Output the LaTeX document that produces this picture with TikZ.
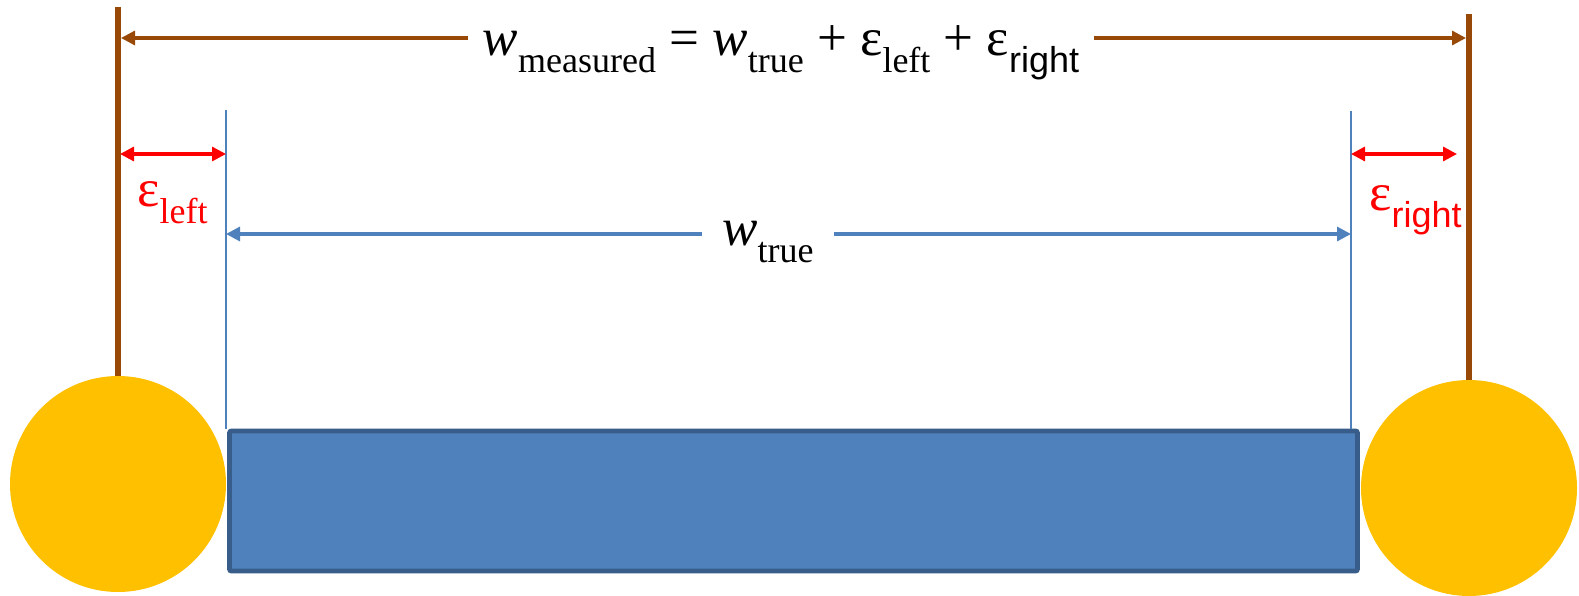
\documentclass[tikz,border=0pt]{standalone}
\usepackage{fontspec}
\setmainfont{Liberation Serif}
\setsansfont{Liberation Sans}
\usetikzlibrary{arrows.meta,positioning}
\definecolor{rodbrown}{HTML}{984807}
\definecolor{ballgold}{HTML}{FFC000}
\definecolor{barblue}{HTML}{4F81BD}
\definecolor{baredge}{HTML}{385D8A}
\definecolor{errred}{HTML}{FF0000}
\newcommand{\wsub}[1]{\raisebox{-8.5pt}{\fontsize{18}{21}\selectfont #1}}
\tikzset{
  ball/.style={circle, fill=ballgold, minimum size=108pt, inner sep=0pt},
  rod/.style={line width=3.4pt, color=rodbrown},
  bar/.style={draw=baredge, fill=barblue, line width=2.4pt, rounded corners=1pt, inner sep=0pt, minimum width=564pt, minimum height=70pt},
  edgeln/.style={line width=0.9pt, color=barblue},
  arrm/.style={-{Triangle[length=7pt, width=7pt]}, line width=1.6pt, color=rodbrown},
  arrt/.style={-{Triangle[length=7pt, width=7pt]}, line width=1.6pt, color=barblue},
  arre/.style={{Triangle[length=7pt, width=7pt]}-{Triangle[length=7pt, width=7pt]}, line width=1.6pt, color=errred},
  lab/.style={font=\fontsize{26.5}{30}\selectfont, inner ysep=0pt, inner xsep=7pt},
}
\begin{document}
\begin{tikzpicture}[x=0.5pt, y=-0.5pt]
  \useasboundingbox (0,0) rectangle (1579,595);
  % balls, rods and bar
  \foreach \nm/\x/\y in {lball/118/484, rball/1469/488}
    \node[ball] (\nm) at (\x,\y) {};
  \coordinate (lrod) at (118,7);
  \coordinate (rrod) at (1469,14);
  \draw[rod] (lrod) -- (lball.north);
  \draw[rod] (rrod) -- (rball.north);
  \node[bar] (bar) at (793.5,501) {};
  % edges of the true width
  \coordinate (ledge) at (226,110);
  \coordinate (redge) at (1351,111);
  \draw[edgeln] (ledge) -- (ledge |- bar.north);
  \draw[edgeln] (redge) -- (redge |- bar.north);
  % measured width
  \node[lab, anchor=base] (wmeas) at (781,55)
    {\textit{w}\wsub{measured} = \textit{w}\wsub{true} + ε\wsub{left} + ε\wsub{\textsf{right}}};
  \coordinate (mL) at (121,38);
  \coordinate (mR) at (1466,38);
  \draw[arrm] (wmeas.west |- mL) -- (mL);
  \draw[arrm] (wmeas.east |- mR) -- (mR);
  % true width
  \node[lab, anchor=base, inner xsep=10pt] (wtrue) at (768,245) {\textit{w}\wsub{true}};
  \coordinate (tL) at (226,234);
  \coordinate (tR) at (1351,234);
  \draw[arrt] (wtrue.west |- tL) -- (tL);
  \draw[arrt] (wtrue.east |- tR) -- (tR);
  % errors
  \coordinate (eL1) at (120,154);
  \coordinate (eL2) at (226,154);
  \coordinate (eR1) at (1351,154);
  \coordinate (eR2) at (1457,154);
  \draw[arre] (eL1) -- (eL2);
  \draw[arre] (eR1) -- (eR2);
  \node[lab, errred, anchor=base west, inner xsep=0pt] (epsl) at (137,206) {ε\wsub{left}};
  \node[lab, errred, anchor=base west, inner xsep=0pt] (epsr) at (1369,210) {ε\wsub{\textsf{right}}};
\end{tikzpicture}
\end{document}
